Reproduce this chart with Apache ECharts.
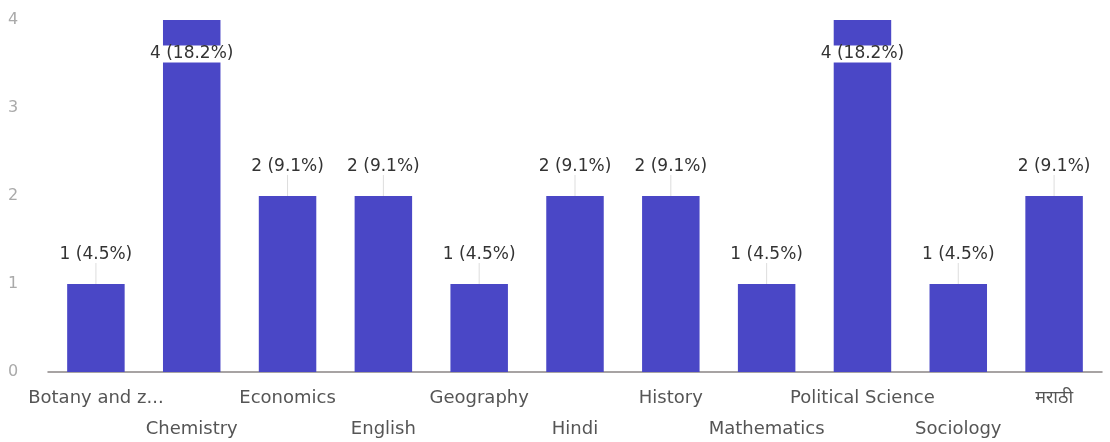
<!DOCTYPE html>
<html>
<head>
<meta charset="utf-8">
<script src="https://cdn.jsdelivr.net/npm/echarts@6/dist/echarts.min.js"></script>
<style>
  html, body { margin: 0; padding: 0; background: #fff; }
  #chart { width: 1110px; height: 442px; }
</style>
</head>
<body>
<div id="chart"></div>
<script>
// subjects and response counts
const categories = ['Botany and z...', 'Chemistry', 'Economics', 'English', 'Geography', 'Hindi',
  'History', 'Mathematics', 'Political Science', 'Sociology', 'मराठी'];
const counts = [1, 4, 2, 2, 1, 2, 2, 1, 4, 1, 2];
const percents = ['4.5', '18.2', '9.1', '9.1', '4.5', '9.1', '9.1', '4.5', '18.2', '4.5', '9.1'];
const yTicks = [0, 1, 2, 3, 4];

const maxCount = Math.max.apply(null, counts);

const chart = echarts.init(document.getElementById('chart'));

const barData = counts.map(function (v) {
  const item = { value: v };
  if (v === maxCount) {
    // tallest bars: label sits inside the bar on a white box
    item.label = { color: '#333', backgroundColor: '#fff', padding: [0, 2] };
    item.labelLine = { show: false };
  }
  return item;
});

const font = 'DejaVu Sans, Noto Sans, sans-serif';

const option = {
  animation: false,
  grid: { left: 48, right: 8, top: 20, bottom: 70, outerBoundsMode: 'none', containLabel: false },
  xAxis: {
    type: 'category',
    data: categories,
    axisLine: { lineStyle: { color: '#8a8585', width: 1.5 } },
    axisTick: { show: false },
    axisLabel: {
      interval: 0,
      margin: 11,
      color: '#555',
      fontSize: 18,
      fontFamily: font,
      lineHeight: 31,
      formatter: function (value, index) {
        return index % 2 === 1 ? '\n' + value : value;
      }
    }
  },
  yAxis: {
    type: 'value',
    min: yTicks[0],
    max: yTicks[yTicks.length - 1],
    interval: 1,
    splitLine: { show: false },
    axisLine: { show: false },
    axisTick: { show: false },
    axisLabel: {
      color: '#aaa',
      fontSize: 16,
      margin: 40,
      align: 'left',
      fontFamily: font
    }
  },
  series: [{
    type: 'bar',
    data: barData,
    barWidth: '60%',
    itemStyle: { color: '#4a47c6' },
    label: {
      show: true,
      position: 'top',
      distance: 4,
      color: '#333',
      fontSize: 17,
      fontFamily: font,
      formatter: function (p) {
        return p.value + ' (' + percents[p.dataIndex] + '%)';
      }
    },
    labelLayout: function (p) {
      if (counts[p.dataIndex] === maxCount) {
        return {
          x: p.rect.x + p.rect.width / 2,
          y: p.rect.y + 34,
          align: 'center',
          verticalAlign: 'middle'
        };
      }
      return { dy: -17 };
    },
    labelLine: { show: true, length2: 0, lineStyle: { color: '#ddd', width: 1 } }
  }]
};

chart.setOption(option);
</script>
</body>
</html>
